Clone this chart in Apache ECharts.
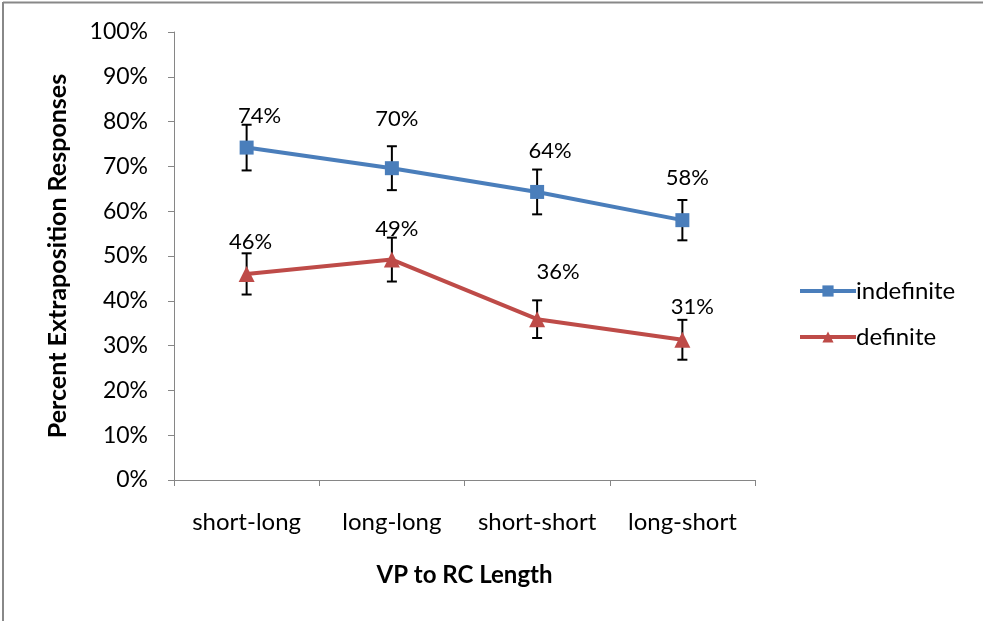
<!DOCTYPE html>
<html>
<head>
<meta charset="utf-8">
<script src="https://cdn.jsdelivr.net/npm/echarts@6/dist/echarts.min.js"></script>
<style>
  html, body { margin: 0; padding: 0; background: #fff; }
  #chart { width: 983px; height: 621px; }
</style>
</head>
<body>
<div id="chart"></div>
<script>
// Categories and series values (percent)
const categories = ['short-long', 'long-long', 'short-short', 'long-short'];
const indefinite = [74.2, 69.6, 64.3, 58.0];
const indefiniteErr = [5.1, 4.9, 5.0, 4.5];
const definite = [46.0, 49.2, 35.9, 31.3];
const definiteErr = [4.6, 4.9, 4.2, 4.45];
const yTicks = [0, 10, 20, 30, 40, 50, 60, 70, 80, 90, 100];

// Label nudges (px) so value labels sit clear of the error bars
const indefiniteLabelShift = [[13, -32], [5, -49], [13, -41], [5, -42]];
const definiteLabelShift = [[4, -32], [5, -31], [21, -47], [10, -33]];

const FONT = 'Lato, "Open Sans", sans-serif';
const BLUE = '#4A7EBB';
const RED = '#BE4B48';
const AXIS = '#868686';

const chart = echarts.init(document.getElementById('chart'), null, { renderer: 'canvas' });

function errorSeries(values, errs) {
  return {
    type: 'custom',
    silent: true,
    z: 1,
    data: values.map((v, i) => [i, v - errs[i], v + errs[i]]),
    renderItem: function (params, api) {
      const lo = api.coord([api.value(0), api.value(1)]);
      const hi = api.coord([api.value(0), api.value(2)]);
      const half = 5;
      const style = { stroke: '#000', lineWidth: 2 };
      return {
        type: 'group',
        children: [
          { type: 'line', shape: { x1: lo[0], y1: lo[1], x2: hi[0], y2: hi[1] }, style },
          { type: 'line', shape: { x1: lo[0] - half, y1: lo[1], x2: lo[0] + half, y2: lo[1] }, style },
          { type: 'line', shape: { x1: hi[0] - half, y1: hi[1], x2: hi[0] + half, y2: hi[1] }, style }
        ]
      };
    }
  };
}

function lineSeries(name, values, color, symbol, size, shifts) {
  return {
    name: name,
    type: 'line',
    z: 3,
    data: values.map((v, i) => ({
      value: v,
      label: { offset: shifts[i] }
    })),
    symbol: symbol,
    symbolSize: size,
    lineStyle: { color: color, width: 4 },
    itemStyle: { color: color },
    label: {
      show: true,
      position: 'inside',
      color: '#000',
      fontFamily: FONT,
      fontSize: 22,
      formatter: p => Math.round(p.value) + '%'
    },
    emphasis: { disabled: true },
    animation: false
  };
}

const option = {
  animation: false,
  backgroundColor: '#fff',
  grid: { left: 174, right: 228, top: 32, bottom: 141, containLabel: false },
  legend: {
    orient: 'vertical',
    left: 793,
    top: 274,
    itemWidth: 56,
    itemHeight: 14,
    itemGap: 22,
    lineStyle: { width: 4 },
    textStyle: { fontFamily: FONT, fontSize: 24, color: '#000', padding: [0, 0, 0, -5] },
    data: ['indefinite', 'definite']
  },
  xAxis: {
    type: 'category',
    data: categories,
    boundaryGap: true,
    name: 'VP to RC Length',
    nameLocation: 'middle',
    nameGap: 83,
    nameTextStyle: { fontFamily: FONT, fontSize: 24, fontWeight: 'bold', color: '#000' },
    axisLine: { lineStyle: { color: AXIS, width: 1 } },
    axisTick: { show: true, alignWithLabel: false, interval: 0, length: 6, lineStyle: { color: AXIS } },
    axisLabel: { fontFamily: FONT, fontSize: 24, color: '#000', margin: 30, interval: 0, hideOverlap: false },
    splitLine: { show: false }
  },
  yAxis: {
    type: 'value',
    min: yTicks[0],
    max: yTicks[yTicks.length - 1],
    interval: yTicks[1] - yTicks[0],
    name: 'Percent Extraposition Responses',
    nameLocation: 'middle',
    nameGap: 104,
    nameRotate: 90,
    nameTextStyle: { fontFamily: FONT, fontSize: 25, fontWeight: 'bold', color: '#000' },
    axisLine: { show: true, lineStyle: { color: AXIS, width: 1 } },
    axisTick: { show: true, length: 6, lineStyle: { color: AXIS } },
    axisLabel: { fontFamily: FONT, fontSize: 23, color: '#000', margin: 26, formatter: '{value}%' },
    splitLine: { show: false }
  },
  graphic: [
    { type: 'line', shape: { x1: 3, y1: 2.5, x2: 983, y2: 2.5 }, style: { stroke: '#888', lineWidth: 2 }, silent: true },
    { type: 'line', shape: { x1: 3, y1: 2, x2: 3, y2: 621 }, style: { stroke: '#888', lineWidth: 2 }, silent: true }
  ],
  series: [
    errorSeries(indefinite, indefiniteErr),
    errorSeries(definite, definiteErr),
    lineSeries('indefinite', indefinite, BLUE, 'rect', 14, indefiniteLabelShift),
    lineSeries('definite', definite, RED, 'triangle', 16, definiteLabelShift)
  ]
};

chart.setOption(option);
</script>
</body>
</html>
